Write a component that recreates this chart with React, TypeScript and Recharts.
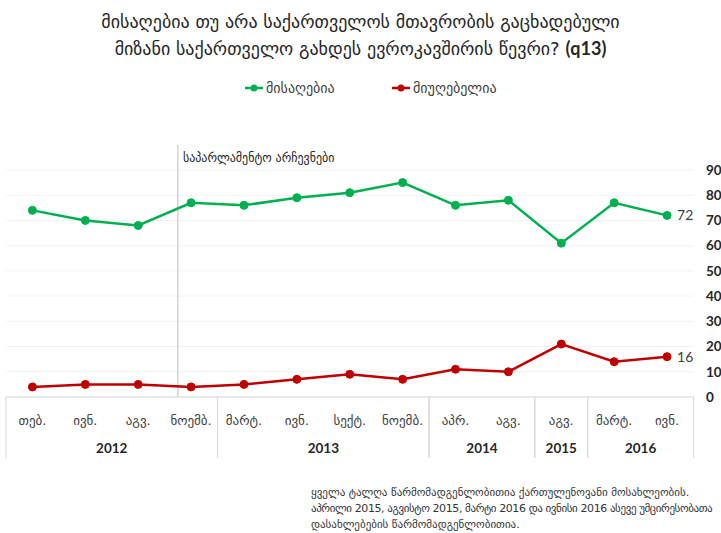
import React from 'react'
import { LineChart, Line, XAxis, YAxis, CartesianGrid, ReferenceLine, LabelList } from 'recharts'

const months = ['თებ.', 'ივნ.', 'აგვ.', 'ნოემბ.', 'მარტ.', 'ივნ.', 'სექტ.', 'ნოემბ.', 'აპრ.', 'აგვ.', 'აგვ.', 'მარტ.', 'ივნ.']
const years = ['2012', '2012', '2012', '2012', '2013', '2013', '2013', '2013', '2014', '2014', '2015', '2016', '2016']
const acceptable = [74, 70, 68, 77, 76, 79, 81, 85, 76, 78, 61, 77, 72]
const unacceptable = [4, 5, 5, 4, 5, 7, 9, 7, 11, 10, 21, 14, 16]
const yTicks = [0, 10, 20, 30, 40, 50, 60, 70, 80, 90]
const electionAt = 2.75

const data = months.map((m, i) => ({ i, month: m, acceptable: acceptable[i], unacceptable: unacceptable[i] }))

const GEO = '"DejaVu Sans", sans-serif'
const NUM = 'Lato, "Open Sans", sans-serif'
const GREEN = '#00b050'
const RED = '#c00000'

const PLOT_LEFT = 6
const PLOT_RIGHT = 693.5
const band = (PLOT_RIGHT - PLOT_LEFT) / months.length

function MonthTick(props: any) {
  const { x, y, payload } = props
  const i = payload.value
  const yr = years[i]
  const first = i === 0 || years[i - 1] !== yr
  const last = i === months.length - 1 || years[i + 1] !== yr
  let n = 0
  while (years[i + n] === yr) n++
  return (
    <g>
      <text x={x} y={y + 23} dy="0.35em" textAnchor="middle" fontFamily={GEO} fontSize={13} fill="#404040">
        {months[i]}
      </text>
      {first && <line x1={x - band / 2} x2={x - band / 2} y1={y} y2={y + 61} stroke="#d9d9d9" />}
      {last && <line x1={x + band / 2} x2={x + band / 2} y1={y} y2={y + 61} stroke="#d9d9d9" />}
      {first && (
        <text x={x + ((n - 1) * band) / 2} y={y + 51} dy="0.35em" textAnchor="middle" fontFamily={NUM} fontWeight="bold" fontSize={13.5} fill="#262626">
          {yr}
        </text>
      )}
    </g>
  )
}

function EndLabel(props: any) {
  const { x, y, value, index } = props
  if (index !== months.length - 1) return null
  return (
    <text x={x + 10} y={y} dy="0.35em" fontFamily={NUM} fontSize={14} fill="#404040">
      {value}
    </text>
  )
}

function LegendItem({ color, label, left }: { color: string; label: string; left: number }) {
  return (
    <div style={{ position: 'absolute', left, top: 78, height: 20, display: 'flex', alignItems: 'center' }}>
      <svg width={18} height={20}>
        <line x1={0} x2={18} y1={10} y2={10} stroke={color} strokeWidth={2.5} />
        <circle cx={9} cy={10} r={3.5} fill={color} />
      </svg>
      <span style={{ marginLeft: 3, fontFamily: GEO, fontSize: 14, color: '#404040' }}>{label}</span>
    </div>
  )
}

export default function App() {
  return (
    <div style={{ position: 'absolute', left: 0, top: 0, width: 721, height: 533, background: '#fff', overflow: 'hidden' }}>
      <div style={{ position: 'absolute', top: 9, left: 0, width: 721, textAlign: 'center', fontFamily: GEO, fontSize: 18, lineHeight: '26px', color: '#262626' }}>
        <div>მისაღებია თუ არა საქართველოს მთავრობის გაცხადებული</div>
        <div>
          მიზანი საქართველო გახდეს ევროკავშირის წევრი? <b style={{ fontFamily: NUM }}>(q13)</b>
        </div>
      </div>
      <LegendItem color={GREEN} label="მისაღებია" left={245} />
      <LegendItem color={RED} label="მიუღებელია" left={392} />
      <LineChart width={721} height={533} data={data} margin={{ top: 170, right: 0, bottom: 56, left: PLOT_LEFT }} style={{ position: 'absolute', left: 0, top: 0 }}>
        <CartesianGrid vertical={false} stroke="#f2f2f2" />
        <XAxis
          dataKey="i"
          type="number"
          domain={[-0.5, months.length - 0.5]}
          ticks={data.map((d) => d.i)}
          interval={0}
          height={80}
          tickSize={0}
          tickMargin={0}
          tickLine={false}
          axisLine={{ stroke: '#d9d9d9' }}
          tick={<MonthTick />}
        />
        <YAxis
          orientation="right"
          domain={[0, 90]}
          ticks={yTicks}
          width={721 - PLOT_RIGHT}
          axisLine={false}
          tickLine={false}
          tickSize={0}
          tickMargin={12.5}
          tick={{ fontFamily: NUM, fontWeight: 'bold', fontSize: 13.5, fill: '#262626', textAnchor: 'start' }}
        />
        <ReferenceLine
          segment={[{ x: electionAt, y: 0 }, { x: electionAt, y: 100 }]}
          ifOverflow="visible"
          stroke="#bfbfbf"
          label={(p: any) => (
            <text x={p.viewBox.x + 5} y={p.viewBox.y + 13} dy="0.35em" fontFamily={GEO} fontSize={12} fill="#262626">
              საპარლამენტო არჩევნები
            </text>
          )}
        />
        <Line dataKey="acceptable" stroke={GREEN} strokeWidth={2.5} dot={{ r: 4, fill: GREEN, stroke: GREEN, strokeWidth: 1 }} isAnimationActive={false}>
          <LabelList dataKey="acceptable" content={<EndLabel />} />
        </Line>
        <Line dataKey="unacceptable" stroke={RED} strokeWidth={2.5} dot={{ r: 4, fill: RED, stroke: RED, strokeWidth: 1 }} isAnimationActive={false}>
          <LabelList dataKey="unacceptable" content={<EndLabel />} />
        </Line>
      </LineChart>
      <div style={{ position: 'absolute', left: 311, top: 485, fontFamily: GEO, fontSize: 11, lineHeight: '16px', color: '#333', whiteSpace: 'nowrap' }}>
        <div>ყველა ტალღა წარმომადგენლობითია ქართულენოვანი  მოსახლეობის.</div>
        <div style={{ letterSpacing: '-0.4px' }}>აპრილი 2015, აგვისტო 2015, მარტი 2016 და ივნისი 2016 ასევე უმცირესობათა</div>
        <div>დასახლებების წარმომადგენლობითია.</div>
      </div>
    </div>
  )
}
